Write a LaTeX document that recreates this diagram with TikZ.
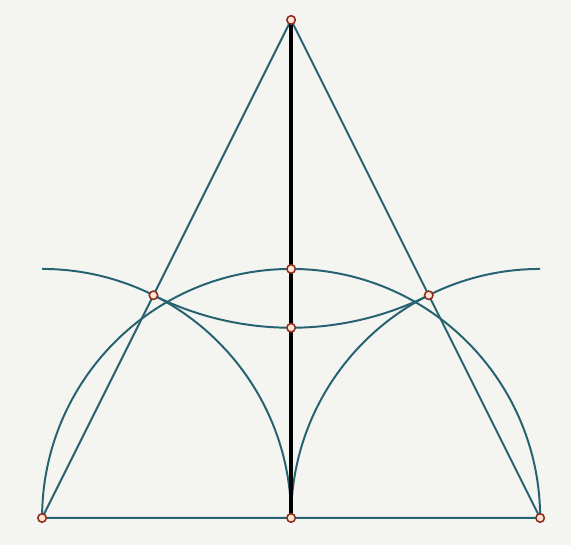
\documentclass[tikz,border=0pt]{standalone}
\usetikzlibrary{calc}

\definecolor{paper}{RGB}{244,244,241}
\definecolor{penteal}{RGB}{38,98,112}
\definecolor{dotrim}{RGB}{140,45,30}
\definecolor{dotfill}{RGB}{255,228,212}

\tikzset{
    construct/.style={penteal, line width=0.9pt},
    dot/.style={draw=dotrim, fill=dotfill, line width=0.7pt},
}

\begin{document}
\begin{tikzpicture}[scale=4]
            \useasboundingbox (-1.169,-0.108) rectangle (1.124,2.080);
            \fill[paper] (-1.169,-0.108) rectangle (1.124,2.080);

            \coordinate (A) at (-1,0);
            \coordinate (B) at (1,0);
            \coordinate (M) at (0,0);
            \coordinate (T) at (0,2);
            \coordinate (P) at (-0.5528,0.8944);
            \coordinate (Q) at (0.5528,0.8944);
            \coordinate (H) at (0,1);
            \coordinate (G) at (0,0.7639);

            \draw[construct] (A)--(B)--(T)--cycle;

            \draw[construct] (B) arc[start angle=0, end angle=180, radius=1];
            \draw[construct] (M) arc[start angle=0, end angle=90, radius=1];
            \draw[construct] (M) arc[start angle=180, end angle=90, radius=1];
            \draw[construct] (P) arc[start angle=243.43, end angle=296.57, radius=1.2361];

            \draw[black, line width=2pt] (M)--(T);

            \foreach \p in {A,B,M,T,P,Q,H,G}
                \fill[dot] (\p) circle (0.017);
        \end{tikzpicture}
\end{document}
